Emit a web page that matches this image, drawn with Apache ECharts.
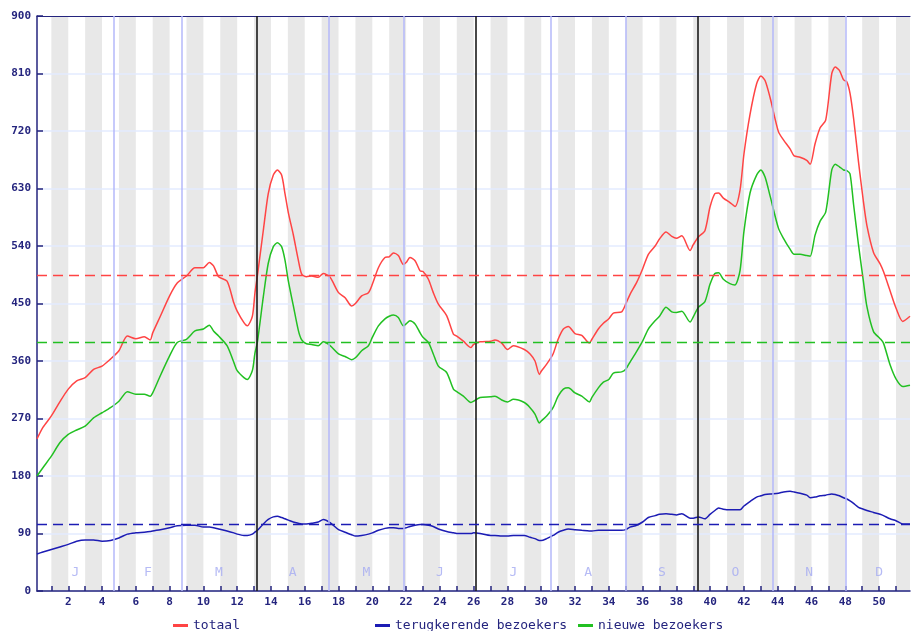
<!DOCTYPE html>
<html>
<head>
<meta charset="utf-8">
<script src="https://cdn.jsdelivr.net/npm/echarts@6.0.0/dist/echarts.min.js"></script>
<style>
  html, body { margin: 0; padding: 0; background: #fff; }
  #chart { width: 911px; height: 631px; }
</style>
</head>
<body>
<div id="chart"></div>
<script>
// x positions in weeks of the year
const weeks = [0.15, 0.5, 1, 1.5, 2, 2.5, 3, 3.5, 4, 4.5, 5, 5.5, 6, 6.5, 6.85, 7, 7.45, 8, 8.45, 9, 9.5, 10, 10.35, 10.6, 10.9, 11.4, 11.8, 12, 12.4, 12.6, 12.9, 13.05, 13.2, 13.55, 13.84, 14.14, 14.38, 14.63, 14.83, 15.03, 15.32, 15.62, 15.82, 16.1, 16.41, 16.8, 17.1, 17.5, 18, 18.39, 18.78, 19, 19.37, 19.77, 20, 20.36, 20.75, 21, 21.25, 21.54, 21.84, 22, 22.23, 22.53, 22.83, 23, 23.32, 23.61, 23.91, 24.4, 24.8, 25, 25.39, 25.84, 26, 26.38, 27, 27.26, 27.66, 28, 28.35, 29, 29.34, 29.63, 29.89, 30, 30.32, 30.7, 31, 31.31, 31.6, 32, 32.4, 32.85, 33, 33.38, 33.68, 34, 34.27, 34.76, 35, 35.25, 35.65, 36, 36.34, 36.74, 37, 37.39, 37.73, 38, 38.32, 38.81, 39, 39.3, 39.69, 39.99, 40.28, 40.5, 40.78, 41.17, 41.47, 41.77, 42, 42.36, 42.75, 43, 43.25, 43.55, 44.04, 44.34, 44.73, 44.97, 45.32, 45.72, 45.92, 46.21, 46.51, 46.84, 47.2, 47.4, 47.65, 47.9, 48.09, 48.28, 48.49, 48.78, 49.07, 49.28, 49.67, 50.06, 50.26, 50.65, 51, 51.4, 51.83]

const totaal = [238, 256, 274, 296, 316, 329, 334, 347, 352, 363, 376, 399, 395, 398, 393, 404, 430, 462, 482, 493, 506, 506, 514, 509, 492, 485, 451, 438, 420, 415, 430, 466, 494, 565, 622, 651, 659, 651, 622, 592, 558, 518, 496, 492, 493, 491, 497, 491, 467, 459, 446, 450, 462, 467, 480, 506, 522, 523, 529, 525, 511, 514, 522, 517, 501, 500, 488, 467, 449, 431, 402, 399, 391, 381, 386, 390, 391, 393, 388, 378, 384, 378, 371, 360, 339, 344, 355, 371, 394, 410, 414, 403, 400, 388, 394, 410, 419, 426, 435, 437, 449, 464, 483, 504, 527, 540, 551, 562, 555, 552, 556, 533, 542, 554, 564, 601, 622, 623, 615, 608, 602, 628, 684, 746, 794, 806, 799, 772, 719, 706, 692, 681, 679, 674, 668, 700, 725, 737, 810, 820, 815, 800, 797, 779, 740, 672, 610, 572, 530, 512, 500, 470, 443, 422, 430]

const terugkerend = [58, 61, 65, 69, 73, 78, 80, 80, 78, 79, 83, 89, 91, 92, 93, 94, 96, 99, 102, 103, 103, 100, 100, 99, 97, 94, 91, 89, 87, 87, 89, 92, 95, 105, 112, 116, 117, 115, 113, 111, 108, 106, 105, 105, 106, 108, 112, 107, 96, 92, 88, 86, 87, 89, 91, 95, 98, 99, 99, 98, 98, 99, 101, 103, 104, 104, 103, 101, 97, 93, 91, 90, 90, 90, 91, 90, 87, 87, 86, 86, 87, 87, 84, 82, 79, 79, 82, 87, 92, 95, 97, 96, 95, 94, 94, 95, 95, 95, 95, 95, 96, 100, 103, 108, 115, 118, 120, 121, 120, 119, 121, 114, 114, 116, 113, 120, 126, 130, 128, 127, 127, 127, 133, 140, 147, 149, 151, 152, 153, 155, 156, 155, 153, 150, 146, 147, 149, 150, 152, 151, 149, 146, 144, 141, 137, 131, 128, 126, 123, 120, 118, 113, 110, 105, 105]

const nieuw = [180, 193, 211, 232, 245, 252, 258, 271, 279, 287, 297, 312, 308, 308, 305, 310, 337, 368, 389, 394, 407, 410, 416, 407, 399, 384, 358, 345, 334, 331, 345, 372, 390, 461, 513, 539, 545, 539, 518, 485, 447, 408, 393, 387, 386, 384, 390, 384, 371, 367, 362, 365, 376, 384, 397, 415, 426, 430, 432, 428, 415, 418, 423, 418, 404, 397, 389, 371, 352, 342, 316, 312, 305, 295, 297, 303, 304, 305, 299, 296, 300, 295, 287, 277, 263, 266, 274, 287, 305, 316, 318, 310, 305, 296, 303, 318, 327, 331, 341, 343, 347, 358, 375, 391, 410, 423, 430, 444, 437, 436, 438, 421, 429, 444, 453, 480, 497, 498, 488, 481, 479, 502, 563, 623, 651, 659, 648, 618, 568, 552, 535, 527, 527, 525, 524, 557, 579, 593, 659, 668, 664, 659, 658, 653, 605, 542, 485, 445, 406, 395, 388, 354, 332, 320, 322]

// averages (dashed lines)
const avgTotaal = 494
const avgTerug = 104
const avgNieuw = 390

// month starts in weeks
const monthStarts = [0.14, 4.71, 8.71, 13.14, 17.43, 21.86, 26.14, 30.57, 35.0, 39.29, 43.71, 48.0]
const monthLetters = ['J', 'F', 'M', 'A', 'M', 'J', 'J', 'A', 'S', 'O', 'N', 'D']
const weekTicks = Array.from({ length: 51 }, (_, i) => i + 1)
const weekLabels = Array.from({ length: 25 }, (_, i) => (i + 1) * 2)

const xMin = 0.15
const xMax = 51.83
const navy = '#24247e'
const mono = 'DejaVu Sans Mono'

const bands = weekTicks.filter((w) => w % 2 === 1).map((w) => [
  { xAxis: w },
  { xAxis: Math.min(w + 1, xMax) },
])

// every third month start is a quarter: black line
const monthLines = monthStarts.slice(1).map((m, i) => ({
  xAxis: m,
  lineStyle: (i + 1) % 3 === 0
    ? { color: '#1a1a1a', width: 1.6, type: 'solid' }
    : { color: '#b4b8fa', width: 1.5, type: 'solid' },
}))

const monthMid = monthStarts.map((m, i) => [(m + (monthStarts[i + 1] ?? 52)) / 2, 28])

const chart = echarts.init(document.getElementById('chart'))

const lineSeries = (name, values, color, avg) => ({
  name,
  type: 'line',
  data: weeks.map((w, i) => [w, values[i]]),
  showSymbol: false,
  smooth: 0.25,
  z: 3,
  lineStyle: { color, width: 1.5 },
  itemStyle: { color },
  markLine: {
    silent: true,
    symbol: ['none', 'none'],
    label: { show: false },
    lineStyle: { color, width: 1.3, type: [10, 6] },
    data: [{ yAxis: avg }],
  },
})

const legendBase = {
  top: 614,
  icon: 'rect',
  itemWidth: 15,
  itemHeight: 3,
  textStyle: { color: navy, fontFamily: mono, fontSize: 13 },
}

chart.setOption({
  animation: false,
  backgroundColor: '#fff',
  grid: { left: 37, right: 1, top: 16, bottom: 40 },
  legend: [
    { ...legendBase, left: 168, data: ['totaal'] },
    { ...legendBase, left: 370, data: ['terugkerende bezoekers'] },
    { ...legendBase, left: 573, data: ['nieuwe bezoekers'] },
  ],
  xAxis: [
    {
      type: 'value',
      min: xMin,
      max: xMax,
      z: 2,
      axisLine: { lineStyle: { color: navy, width: 1.5 } },
      axisTick: { inside: true, length: 5, customValues: weekTicks, lineStyle: { color: navy, width: 1.5 } },
      axisLabel: { customValues: weekLabels, color: navy, fontFamily: mono, fontWeight: 'bold', fontSize: 11, margin: 6 },
      splitLine: { show: false },
    },
    {
      // top frame line only
      type: 'value',
      position: 'top',
      min: xMin,
      max: xMax,
      z: 4,
      axisLine: { show: true, lineStyle: { color: navy, width: 1.2 } },
      axisTick: { show: false },
      axisLabel: { show: false },
      splitLine: { show: false },
    },
  ],
  yAxis: {
    type: 'value',
    min: 0,
    max: 900,
    interval: 90,
    z: 2,
    axisLine: { show: true, lineStyle: { color: navy, width: 1.5 } },
    axisTick: { show: true, inside: true, length: 6, lineStyle: { color: navy, width: 1.5 } },
    axisLabel: { color: navy, fontFamily: mono, fontWeight: 'bold', fontSize: 11, margin: 6 },
    splitLine: { showMaxLine: false, lineStyle: { color: '#e3ebff', width: 1.5 } },
  },
  series: [
    {
      name: 'bands',
      type: 'line',
      data: [],
      z: 1,
      silent: true,
      markArea: { silent: true, itemStyle: { color: '#e8e8e8' }, data: bands },
      markLine: { silent: true, symbol: ['none', 'none'], label: { show: false }, data: monthLines },
    },
    {
      name: 'months',
      type: 'scatter',
      data: monthMid,
      z: 2,
      silent: true,
      symbolSize: 1,
      itemStyle: { color: 'rgba(0,0,0,0)' },
      label: {
        show: true,
        position: 'inside',
        formatter: (p) => monthLetters[p.dataIndex],
        color: '#a4aaf2',
        fontFamily: mono,
        fontSize: 13,
      },
    },
    lineSeries('totaal', totaal, '#ff4444', avgTotaal),
    lineSeries('terugkerende bezoekers', terugkerend, '#1c1cb4', avgTerug),
    lineSeries('nieuwe bezoekers', nieuw, '#22c022', avgNieuw),
  ],
})
</script>
</body>
</html>
